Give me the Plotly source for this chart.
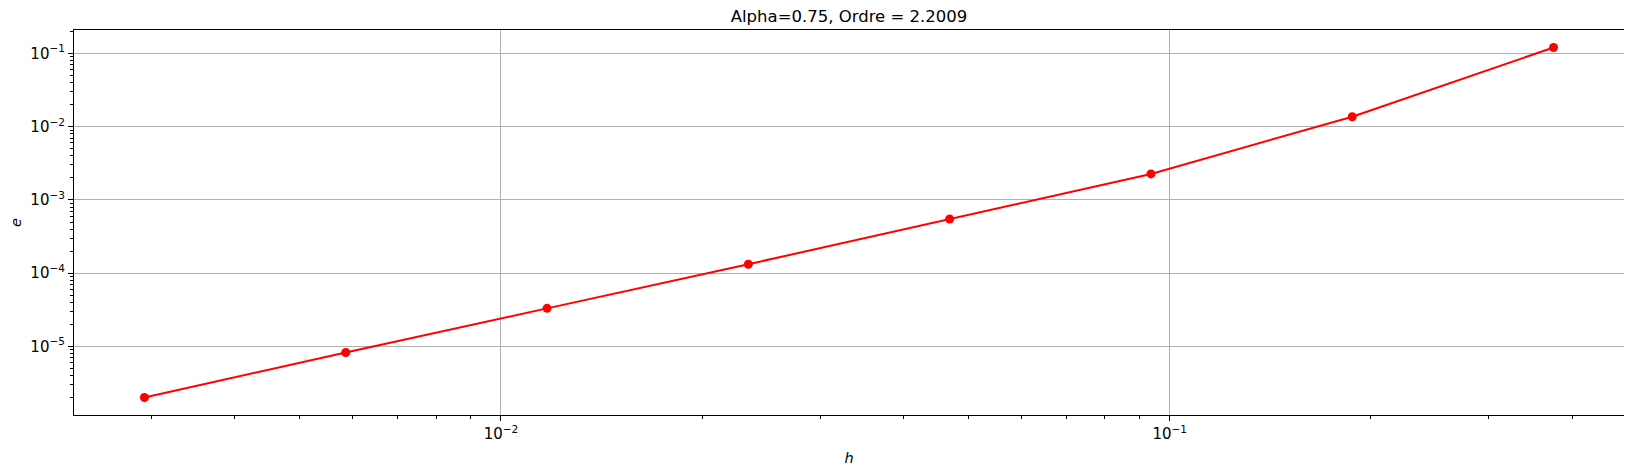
import numpy as np
import plotly.graph_objects as go

# step sizes and errors
h = [0.375, 0.1875, 0.09375, 0.046875, 0.0234375, 0.01171875, 0.005859375, 0.0029296875]
err = [0.1205, 0.01369, 2.265e-3, 5.49e-4, 1.327e-4, 3.31e-5, 8.28e-6, 2.01e-6]

title = 'Alpha=0.75, Ordre = 2.2009'
x_major = [1e-2, 1e-1]
y_major = [1e-5, 1e-4, 1e-3, 1e-2, 1e-1]


def sup_label(v):
    return '10<sup>\u2212%d</sup>' % int(round(-np.log10(v)))


def log_range(vals, pad=0.05):
    lo, hi = np.log10(min(vals)), np.log10(max(vals))
    d = (hi - lo) * pad
    return [lo - d, hi + d]


def minor_vals(rng):
    out = []
    for p in range(int(np.floor(rng[0])), int(np.ceil(rng[1])) + 1):
        for m in range(2, 10):
            out.append(m * 10.0 ** p)
    return out


font = 'DejaVu Sans'
xr = log_range(h)
yr = log_range(err)

# the page body adds an 8px offset, so the figure is a bit smaller than the window
W, H = 1624, 466

trace = go.Scatter(x=h, y=err, mode='lines+markers',
                   line=dict(color='red', width=2),
                   marker=dict(color='red', size=9),
                   showlegend=False)

fig = go.Figure(data=[trace])

axis_common = dict(type='log', automargin=False,
                   showline=True, linecolor='black', linewidth=1.1, mirror=True,
                   ticks='outside', ticklen=5, tickwidth=1.1, tickcolor='black',
                   showgrid=True, gridcolor='#b0b0b0', gridwidth=1.1, zeroline=False,
                   tickfont=dict(family=font, size=15, color='black'))

fig.update_xaxes(range=xr, tickvals=x_major, ticktext=[sup_label(v) for v in x_major],
                 minor=dict(tickvals=minor_vals(xr), ticks='outside', ticklen=3, tickwidth=0.8,
                            tickcolor='black', showgrid=False),
                 title=dict(text='<i>h</i>', font=dict(family=font, size=14.5, color='black'), standoff=10),
                 **axis_common)
fig.update_yaxes(range=yr, tickvals=y_major, ticktext=[sup_label(v) for v in y_major],
                 minor=dict(tickvals=minor_vals(yr), ticks='outside', ticklen=3, tickwidth=0.8,
                            tickcolor='black', showgrid=False),
                 title=dict(text='<i>e</i>', font=dict(family=font, size=14.5, color='black'), standoff=10),
                 **axis_common)

fig.update_layout(width=W, height=H,
                  margin=dict(l=66, r=8, t=22, b=59),
                  plot_bgcolor='white', paper_bgcolor='white',
                  title=dict(text=title, x=(66 + W - 8) / 2 / W, xanchor='center',
                             y=1 - 8 / H, yanchor='middle',
                             font=dict(family=font, size=16.5, color='black')))

fig.write_html('out.html')
